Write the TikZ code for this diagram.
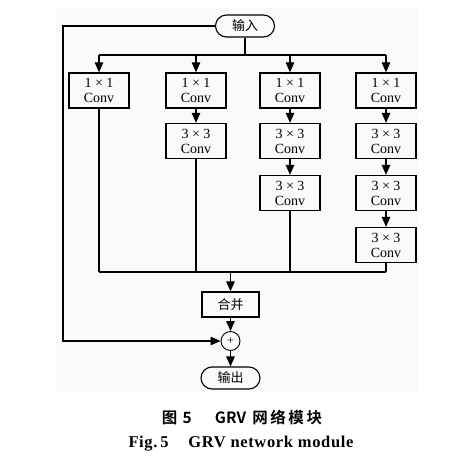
\documentclass[tikz,border=0pt]{standalone}
\usepackage{fontspec}
\setmainfont{Liberation Serif}
\newfontfamily\cjk{Noto Sans CJK SC}
\newfontfamily\cjkb{Noto Sans CJK SC Bold}
\newfontfamily\capfont[LetterSpace=4]{Liberation Serif Bold}
\usetikzlibrary{arrows.meta,positioning}
\begin{document}
\begin{tikzpicture}[x=1pt,y=-1pt,
  line width=1.1pt,
  conv/.style={draw,line width=1.3pt,minimum width=60pt,minimum height=35pt,inner sep=0pt,align=center,font=\fontsize{14}{15}\selectfont},
  term/.style={draw,rounded corners=11pt,minimum width=59pt,minimum height=22pt,inner sep=0pt,font=\cjk\fontsize{13}{14}\selectfont},
  arr/.style={-{Triangle[length=10pt,width=8.5pt]}}]
\useasboundingbox (0,0) rectangle (452,463);
\fill[black!2] (56,8) rectangle (418,392);
\node[term] (in) at (245,26) {输入};
\node[conv] (b11) at (99,90.5) {1 × 1\\Conv};
\node[conv] (b21) at (196,90.5) {1 × 1\\Conv};
\node[conv] (b22) at (196,141) {3 × 3\\Conv};
\node[conv] (b31) at (290,90.5) {1 × 1\\Conv};
\node[conv] (b32) at (290,141) {3 × 3\\Conv};
\node[conv] (b33) at (290,193) {3 × 3\\Conv};
\node[conv] (b41) at (386,90.5) {1 × 1\\Conv};
\node[conv] (b42) at (386,141) {3 × 3\\Conv};
\node[conv] (b43) at (386,193) {3 × 3\\Conv};
\node[conv] (b44) at (386,245) {3 × 3\\Conv};
\node[draw,line width=1.3pt,minimum width=57pt,minimum height=25pt,inner sep=0pt,font=\cjk\fontsize{13}{14}\selectfont] (mg) at (230.5,304.5) {合并};
\node[draw,circle,minimum size=19pt,inner sep=0pt,line width=0.9pt,font=\fontsize{12}{12}\selectfont] (plus) at (230.5,341) {+};
\node[term] (out) at (230.5,378) {输出};
\coordinate (top) at (245,55);
\coordinate (bot) at (230.5,272);
\draw (in.south) -- (top);
\draw (b11.north |- top) -- (b41.north |- top);
\foreach \b in {b11,b21,b31,b41} \draw[arr] (\b.north |- top) -- (\b.north);
\draw[arr] (b21) -- (b22);
\draw[arr] (b31) -- (b32);
\draw[arr] (b32) -- (b33);
\draw[arr] (b41) -- (b42);
\draw[arr] (b42) -- (b43);
\draw[arr] (b43) -- (b44);
\draw (b11.south) -- (b11.south |- bot);
\draw (b22.south) -- (b22.south |- bot);
\draw (b33.south) -- (b33.south |- bot);
\draw (b44.south) -- (b44.south |- bot);
\draw (b11.south |- bot) -- (b44.south |- bot);
\draw[arr] (bot) -- (mg.north);
\draw[arr] (mg.south) -- (plus.north);
\draw[arr] (plus.south) -- (out.north);
\draw[arr] (in.west) -- (63,26) -- (63,341) -- (plus.west);
\node[font=\cjkb\fontsize{15.5}{17}\selectfont] (cap1) at (242,418) {图\,\,5\hspace{1.5em}GRV\hspace{0.4em}网\,络\,模\,块};
\node[font=\capfont\fontsize{16.5}{18}\selectfont] (cap2) at (241,444) {Fig.\,5\hspace{1.2em}GRV network module};
\end{tikzpicture}
\end{document}
